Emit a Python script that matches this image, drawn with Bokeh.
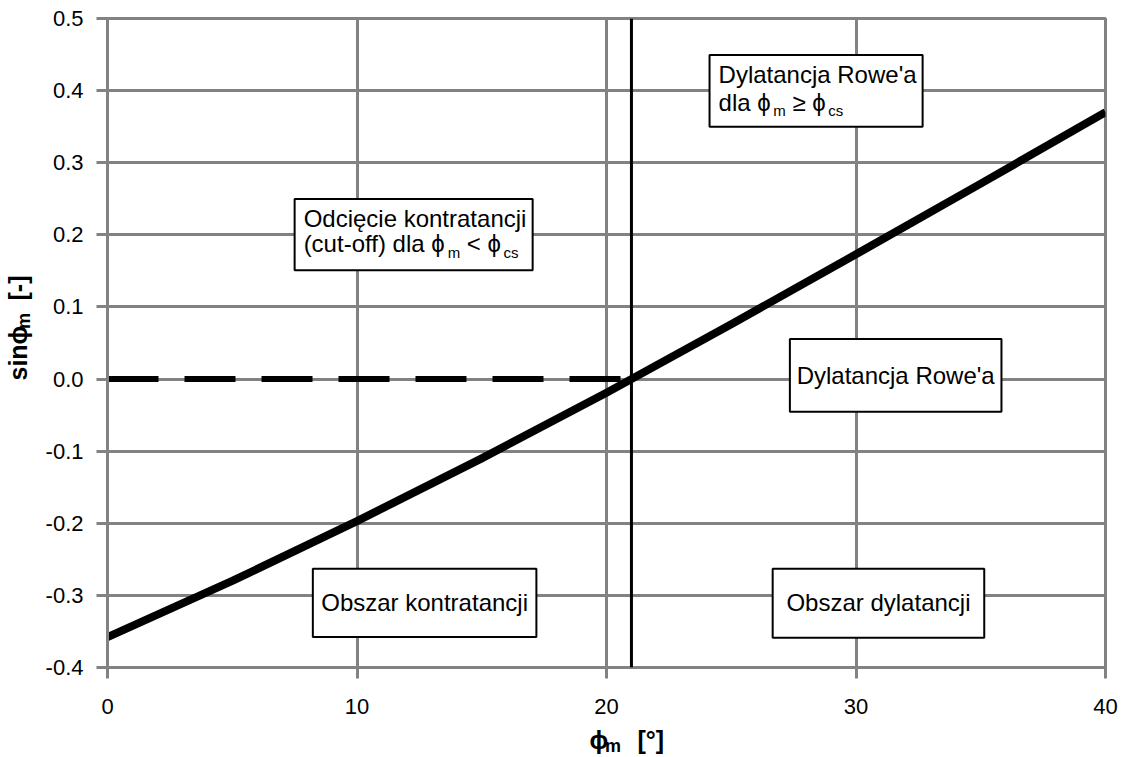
import math
from bokeh.plotting import figure
from bokeh.layouts import gridplot
from bokeh.models import Range1d, BoxAnnotation, Label, Span, FixedTicker
from bokeh.embed import file_html
from bokeh.resources import INLINE

# ---- data ----
phi_m = [0, 5, 10, 15, 20, 25, 30, 35, 40]
sin_psi = [-0.358, -0.280, -0.197, -0.110, -0.019, 0.076, 0.173, 0.271, 0.370]
cutoff_phi = [0, 21]
cutoff_sin = [0.0, 0.0]
phi_cs = 21

x_ticks = [0, 10, 20, 30, 40]
x_tick_labels = ["0", "10", "20", "30", "40"]
y_ticks = [-0.4, -0.3, -0.2, -0.1, 0.0, 0.1, 0.2, 0.3, 0.4, 0.5]
y_tick_labels = ["-0.4", "-0.3", "-0.2", "-0.1", "0.0", "0.1", "0.2", "0.3", "0.4", "0.5"]

GRAY = "#828282"
FONT = "Liberation Sans"
PHI = "\u03d5"
MAIN = 24
SUB = 15
SUB_DROP = 5
BASE_CORR = 0.4   # observed downward shift of alphabetic baselines, in em

TOTAL_W, TOTAL_H = 1125, 757
YLAB_W = 36
XLAB_H = 35
MAIN_W = TOTAL_W - YLAB_W
MAIN_H = TOTAL_H - XLAB_H
FRAME_L, FRAME_B = 107, 667   # frame edges on the page, in pixels

p = figure(width=MAIN_W, height=MAIN_H, x_range=Range1d(0, 40), y_range=Range1d(-0.4, 0.5),
           output_backend="svg", toolbar_location=None,
           min_border_left=FRAME_L - YLAB_W, min_border_right=20, min_border_top=18,
           min_border_bottom=MAIN_H - FRAME_B)
p.background_fill_color = "white"
p.border_fill_color = "white"
p.outline_line_color = GRAY
p.outline_line_width = 3

for ax, ticks, labels, fs, so in ((p.xaxis, x_ticks, x_tick_labels, "22px", 20),
                                  (p.yaxis, y_ticks, y_tick_labels, "22px", 13)):
    ax.ticker = FixedTicker(ticks=ticks)
    ax.major_label_overrides = dict(zip(ticks, labels))
    ax.axis_line_color = GRAY
    ax.axis_line_width = 3
    ax.major_tick_line_color = GRAY
    ax.major_tick_line_width = 3
    ax.major_tick_in = 0
    ax.major_tick_out = 11
    ax.minor_tick_line_color = None
    ax.major_label_text_font = FONT
    ax.major_label_text_font_size = fs
    ax.major_label_text_color = "black"
    ax.major_label_standoff = so

p.xgrid.ticker = FixedTicker(ticks=x_ticks)
p.ygrid.ticker = FixedTicker(ticks=y_ticks)
for g in (p.xgrid, p.ygrid):
    g.grid_line_color = GRAY
    g.grid_line_width = 3

# ---- marks ----
p.line(cutoff_phi, cutoff_sin, line_color="black", line_width=6, line_dash="51 26")
p.line(phi_m, sin_psi, line_color="black", line_width=8, line_join="round")
p.add_layout(Span(location=phi_cs, dimension="height", line_color="black", line_width=3))

# ---- text helpers ----
W = {' ': 278, '(': 333, ')': 333, '-': 333, "'": 191, '<': 584, '\u2265': 549, PHI: 667,
     'O': 778, 'D': 722, 'R': 722, 'a': 556, 'b': 556, 'c': 500, 'd': 556, 'e': 556,
     'f': 278, 'i': 222, 'j': 222, 'k': 500, 'l': 222, 'm': 833, 'n': 556, 'o': 556,
     'r': 333, 's': 500, 't': 278, 'u': 556, 'w': 722, 'y': 500, 'z': 500, '\u0119': 556}
WB = {'s': 556, 'i': 278, 'n': 611, PHI: 700, 'm': 889}


def tw(s, size, table=W):
    return sum(table.get(ch, 556) for ch in s) / 1000.0 * size


def put(fig, text, x, y, dx, dy, size, bold=False, angle=0.0, align="left"):
    corr = BASE_CORR * size
    if angle == 0.0:
        dy += corr
    else:
        dx -= corr
    fig.add_layout(Label(x=x, y=y, x_offset=dx, y_offset=dy, text=text, text_font=FONT,
                         text_font_size=f"{size}px",
                         text_font_style="bold" if bold else "normal",
                         text_color="black", text_baseline="alphabetic",
                         text_align=align, angle=angle))


def rich_line(x, y, dx, dy, pieces):
    for text, sub in pieces:
        size = SUB if sub else MAIN
        lead = len(text) - len(text.lstrip())
        dx += tw(" " * lead, size)
        body = text.lstrip()
        put(p, body.rstrip(), x, y, dx, dy - (SUB_DROP if sub else 0), size)
        dx += tw(body, size)


def box(left, right, bottom, top):
    p.add_layout(BoxAnnotation(left=left, right=right, bottom=bottom, top=top,
                               fill_color="white", fill_alpha=1.0,
                               line_color="black", line_width=2, line_alpha=1.0))


# box 1
box(7.50, 17.04, 0.1508, 0.2496)
rich_line(7.50, 0.2496, 9, -29, [("Odcięcie kontratancji", False)])
rich_line(7.50, 0.2496, 9, -54, [("(cut-off) dla " + PHI, False), ("m", True),
                                  (" < " + PHI, False), ("cs", True)])
# box 2
box(24.13, 32.67, 0.350, 0.4495)
rich_line(24.13, 0.4495, 9, -29, [("Dylatancja Rowe'a", False)])
rich_line(24.13, 0.4495, 9, -57, [("dla " + PHI, False), ("m", True),
                                   (" \u2265 " + PHI, False), ("cs", True)])
# box 3
box(27.35, 35.83, -0.0452, 0.0557)
put(p, "Dylatancja Rowe'a", (27.35 + 35.83) / 2, 0.0557, 0, -46, MAIN, align="center")
# box 4
box(8.23, 17.19, -0.3577, -0.263)
put(p, "Obszar kontratancji", (8.23 + 17.19) / 2, -0.263, 0, -43, MAIN, align="center")
# box 5
box(26.66, 35.14, -0.3586, -0.263)
put(p, "Obszar dylatancji", (26.66 + 35.14) / 2, -0.263, 0, -43, MAIN, align="center")


# ---- axis titles in companion figures (frames aligned with the main frame by the grid) ----
def blank(w, h, xr, yr):
    f = figure(width=w, height=h, x_range=xr, y_range=yr, output_backend="svg",
               toolbar_location=None, x_axis_location=None, y_axis_location=None,
               min_border_left=0, min_border_right=0, min_border_top=0, min_border_bottom=0)
    f.outline_line_color = None
    f.background_fill_color = "white"
    f.border_fill_color = "white"
    f.xgrid.visible = False
    f.ygrid.visible = False
    return f


AX = 25
AXS = 18
# x title: x in data units of the main axis, y in page pixels
xlab = blank(MAIN_W, XLAB_H, Range1d(0, 40), Range1d(TOTAL_H, MAIN_H))
put(xlab, PHI, 0, 749, 589 - FRAME_L, 0, AX, bold=True)
put(xlab, "m", 0, 753, 589 - FRAME_L + tw(PHI, AX, WB) - 2, 0, AXS, bold=True)
put(xlab, "[°]", 0, 749, 637 - FRAME_L, 0, AX, bold=True)

# y title: x in page pixels, y in data units of the main axis
ylab = blank(YLAB_W, MAIN_H, Range1d(0, YLAB_W), Range1d(-0.4, 0.5))
put(ylab, "sin" + PHI, 27, -0.4, 0, FRAME_B - 380, AX, bold=True, angle=math.pi / 2)
put(ylab, "m", 31, -0.4, 0, FRAME_B - 380 + tw("sin" + PHI, AX, WB) - 2, AXS, bold=True,
    angle=math.pi / 2)
put(ylab, "[-]", 27, -0.4, 0, FRAME_B - 300, AX, bold=True, angle=math.pi / 2)

grid = gridplot([[ylab, p], [None, xlab]], toolbar_location=None)
open("out.html", "w").write(file_html(grid, INLINE))
